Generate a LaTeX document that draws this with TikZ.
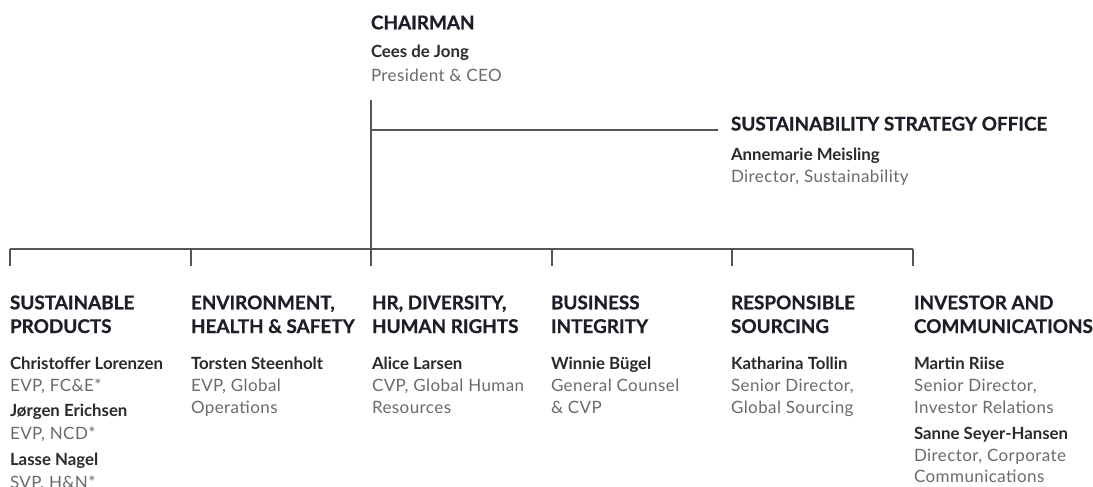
\documentclass[tikz,border=0pt]{standalone}
\usepackage{fontspec}
\setmainfont{Lato}
\newfontfamily\titfont{Lato}[LetterSpace=2.5]
\newfontfamily\headfont{Lato}[BoldFeatures={FakeBold=0.8}]
\definecolor{headc}{HTML}{1E1E28}
\definecolor{namec}{HTML}{2A2A2E}
\definecolor{titc}{HTML}{6A6A6E}
\definecolor{linec}{HTML}{555555}
\tikzset{
  tx/.style={anchor=base west, inner sep=0pt, outer sep=0pt},
  head/.style={tx, font=\headfont\bfseries\fontsize{18.9}{18.9}\selectfont, text=headc},
  nm/.style={tx, font=\bfseries\fontsize{16.8}{16.8}\selectfont, text=namec},
  ti/.style={tx, font=\titfont\fontsize{17}{17}\selectfont, text=titc},
  conn/.style={draw=linec, line width=1.3pt}
}
\begin{document}
\begin{tikzpicture}[x=1pt,y=-1pt]
\useasboundingbox (0,0) rectangle (1093,487);
% Chairman
\node[head] (ch) at (371,29.3) {CHAIRMAN};
\node[nm] (chn) at (371,57.5) {Cees de Jong};
\node[ti] (cht) at (371,81.5) {President \& CEO};
% Sustainability strategy office
\node[head] (so) at (731,130.5) {SUSTAINABILITY STRATEGY OFFICE};
\node[nm] (son) at (731,160) {Annemarie Meisling};
\node[ti] (sot) at (731,182.5) {Director, Sustainability};
% connector coordinates
\coordinate (vtop) at (371,100);
\coordinate (br) at (371,130);
\coordinate (soend) at (718,130);
\coordinate (busL) at (10,249);
\coordinate (busR) at (913,249);
\coordinate (busC) at (371,249);
\foreach \i/\x in {1/10,2/191,3/371,4/552,5/732,6/913}{
  \coordinate (b\i) at (\x,249);
  \coordinate (t\i) at (\x,266);
}
\draw[conn] (vtop) -- (busC);
\draw[conn] (br) -- (soend);
\draw[conn] (busL) -- (busR);
\foreach \i in {1,...,6}{ \draw[conn] (b\i) -- (t\i); }
% Column 1
\node[head] (h1a) at (10,309.3) {SUSTAINABLE};
\node[head] (h1b) at (10,333) {PRODUCTS};
\node[nm] (n1a) at (10,369.3) {Christoffer Lorenzen};
\node[ti] (t1a) at (10,391.7) {EVP, FC\&E*};
\node[nm] (n1b) at (10,416.7) {Jørgen Erichsen};
\node[ti] (t1b) at (10,439) {EVP, NCD*};
\node[nm] (n1c) at (10,465) {Lasse Nagel};
\node[ti] (t1c) at (10,488) {SVP, H\&N*};
% Column 2
\node[head] (h2a) at (191,309.3) {ENVIRONMENT,};
\node[head] (h2b) at (191,333) {HEALTH \& SAFETY};
\node[nm] (n2a) at (191,369.3) {Torsten Steenholt};
\node[ti] (t2a) at (191,391.7) {EVP, Global};
\node[ti] (t2b) at (191,413) {Operations};
% Column 3
\node[head] (h3a) at (372,309.3) {HR, DIVERSITY,};
\node[head] (h3b) at (372,333) {HUMAN RIGHTS};
\node[nm] (n3a) at (372,369.3) {Alice Larsen};
\node[ti] (t3a) at (372,391.7) {CVP, Global Human};
\node[ti] (t3b) at (372,413) {Resources};
% Column 4
\node[head] (h4a) at (551,309.3) {BUSINESS};
\node[head] (h4b) at (551,333) {INTEGRITY};
\node[nm] (n4a) at (551,369.3) {Winnie Bügel};
\node[ti] (t4a) at (551,391.7) {General Counsel};
\node[ti] (t4b) at (551,413) {\& CVP};
% Column 5
\node[head] (h5a) at (731,309.3) {RESPONSIBLE};
\node[head] (h5b) at (731,333) {SOURCING};
\node[nm] (n5a) at (731,369.3) {Katharina Tollin};
\node[ti] (t5a) at (731,391.7) {Senior Director,};
\node[ti] (t5b) at (731,413) {Global Sourcing};
% Column 6
\node[head] (h6a) at (914,309.3) {INVESTOR AND};
\node[head] (h6b) at (914,333) {COMMUNICATIONS};
\node[nm] (n6a) at (914,369.3) {Martin Riise};
\node[ti] (t6a) at (914,391.7) {Senior Director,};
\node[ti] (t6b) at (914,413) {Investor Relations};
\node[nm] (n6b) at (914,439) {Sanne Seyer-Hansen};
\node[ti] (t6c) at (914,461) {Director, Corporate};
\node[ti] (t6d) at (914,482) {Communications};
\end{tikzpicture}
\end{document}
